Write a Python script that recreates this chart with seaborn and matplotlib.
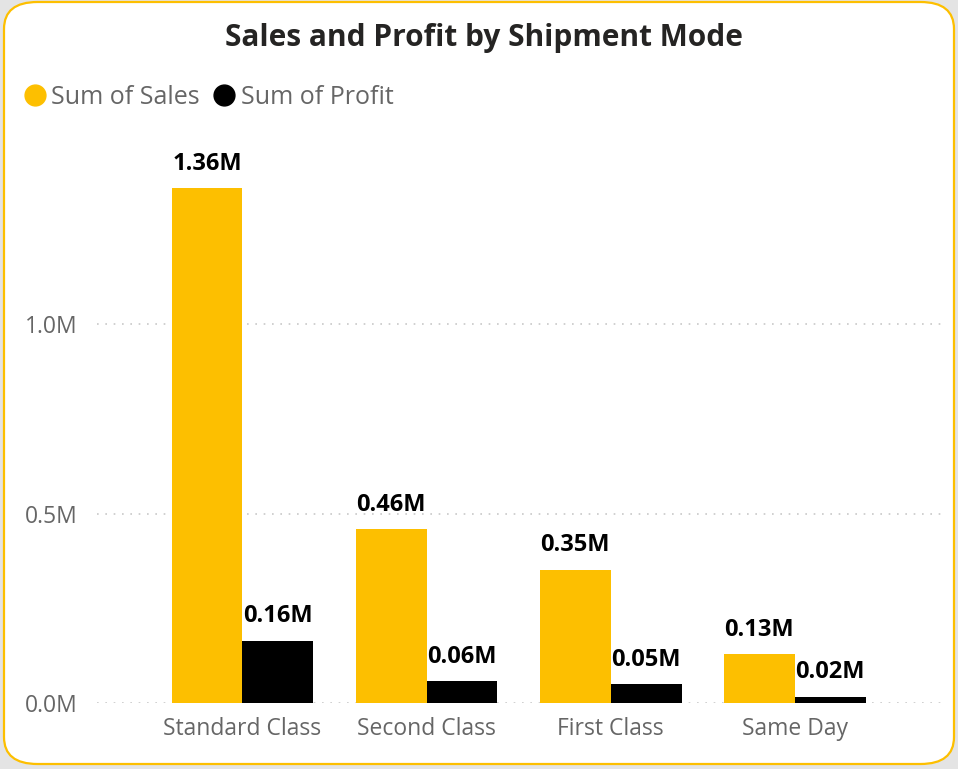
import numpy as np
import pandas as pd
import seaborn as sns
import matplotlib.pyplot as plt
from matplotlib.patches import FancyBboxPatch
from matplotlib.ticker import FuncFormatter
from matplotlib.lines import Line2D

modes = ["Standard Class", "Second Class", "First Class", "Same Day"]
sales = [1358216, 459194, 351428, 128363]
profit = [164089, 57447, 48970, 15892]
series = ["Sum of Sales", "Sum of Profit"]
colors = ["#FDBF00", "#000000"]

df = pd.DataFrame({
    "mode": modes * 2,
    "value": sales + profit,
    "series": [series[0]] * 4 + [series[1]] * 4,
})

sns.set_style("white")
plt.rcParams["font.family"] = ["Open Sans", "DejaVu Sans"]

fig = plt.figure(figsize=(9.58, 7.69), dpi=100, facecolor="#e4e4e4")
card = FancyBboxPatch((4 / 958, 5 / 769), 950 / 958, 762 / 769,
                      boxstyle="round,pad=0,rounding_size=0.035",
                      transform=fig.transFigure, facecolor="white",
                      edgecolor="#FDBF00", linewidth=1.6, zorder=-5)
fig.patches.append(card)

ax = fig.add_axes([97 / 958, 66 / 769, 845 / 958, 0.739])
ax.set_facecolor("none")
sns.barplot(data=df, x="mode", y="value", hue="series", palette=colors,
            width=0.77, saturation=1, linewidth=0, ax=ax, legend=False)

for cont, vals in zip(ax.containers, [sales, profit]):
    ax.bar_label(cont, labels=[f"{v / 1e6:.2f}M" for v in vals], padding=9,
                 fontsize=17, fontweight="bold", color="black")

ax.set_xlim(-0.79, 3.80)
ax.set_ylim(0, 1.5e6)
ax.set_yticks([0, 0.5e6, 1.0e6])
ax.yaxis.set_major_formatter(FuncFormatter(lambda v, p: f"{v / 1e6:.1f}M"))
ax.grid(axis="y", linestyle=(0, (1, 4)), color="#c8c8c8", linewidth=1.2)
ax.set_axisbelow(True)
sns.despine(ax=ax, left=True, bottom=True)
ax.tick_params(axis="both", length=0, labelsize=16.5, labelcolor="#666666")
ax.tick_params(axis="y", pad=14)
ax.tick_params(axis="x", pad=10)
ax.set_xlabel("")
ax.set_ylabel("")

fig.text(484 / 958, 1 - 38 / 769, "Sales and Profit by Shipment Mode",
         ha="center", va="center", fontsize=21.5, fontweight="bold", color="#252423")

handles = [Line2D([], [], marker="o", linestyle="", markersize=15,
                  markerfacecolor=c, markeredgecolor=c) for c in colors]
fig.legend(handles, series, loc="center left", bbox_to_anchor=(22 / 958, 1 - 97 / 769),
           ncol=2, frameon=False, fontsize=18, labelcolor="#666666",
           handletextpad=0.15, columnspacing=0.5, handlelength=1.0, borderaxespad=0,
           borderpad=0)

fig.savefig("out.png", dpi=100, facecolor=fig.get_facecolor())
